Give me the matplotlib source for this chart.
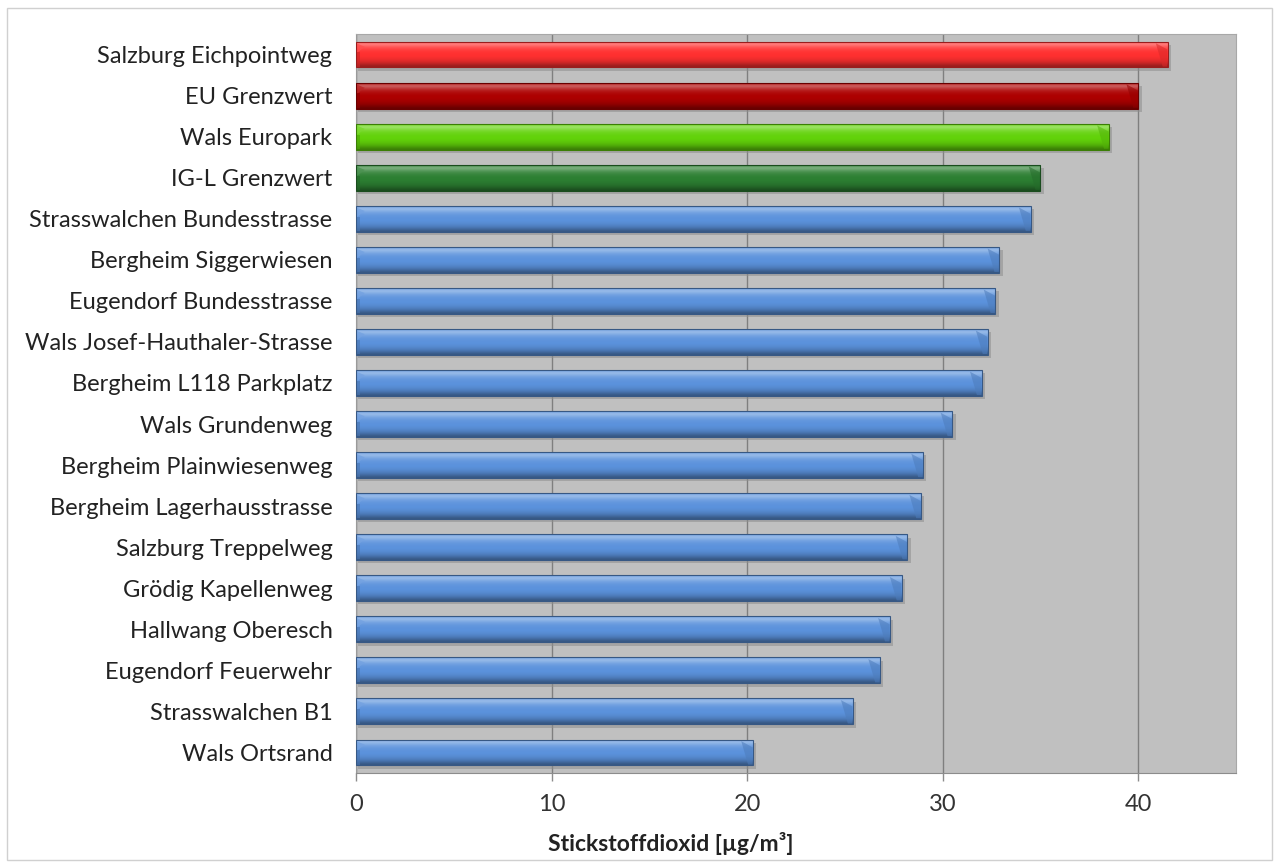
import numpy as np
import matplotlib.pyplot as plt
import matplotlib.colors as mcolors
from matplotlib.patches import Rectangle, Polygon

# NO2 annual means per site, top to bottom
stations = ["Salzburg Eichpointweg", "EU Grenzwert", "Wals Europark", "IG-L Grenzwert",
            "Strasswalchen Bundesstrasse", "Bergheim Siggerwiesen", "Eugendorf Bundesstrasse",
            "Wals Josef-Hauthaler-Strasse", "Bergheim L118 Parkplatz", "Wals Grundenweg",
            "Bergheim Plainwiesenweg", "Bergheim Lagerhausstrasse", "Salzburg Treppelweg",
            "Grödig Kapellenweg", "Hallwang Oberesch", "Eugendorf Feuerwehr",
            "Strasswalchen B1", "Wals Ortsrand"]
no2 = [41.5, 40.0, 38.5, 35.0, 34.5, 32.9, 32.7, 32.3, 32.0, 30.5,
       29.0, 28.9, 28.2, 27.9, 27.3, 26.8, 25.4, 20.3]
bar_colors = ["#ff3030", "#ad0000", "#62d20a", "#2c7f32"] + ["#5b92dc"] * 14

plt.rcParams['font.family'] = ['Lato', 'DejaVu Sans']

fig = plt.figure(figsize=(12.79, 8.68), dpi=100)
ax = fig.add_axes([356 / 1279, 1 - 773 / 868, 880 / 1279, 739 / 868])
ax.set_facecolor("#c0c0c0")

# outer frame of the chart
fig.patches.append(Rectangle((7 / 1279, 8 / 868), 1265 / 1279, 852 / 868,
                             transform=fig.transFigure, fill=False,
                             edgecolor="#d0d0d0", linewidth=1))

n = len(stations)
ypos = np.arange(n)[::-1]
h = 0.63


def shade(c, f):
    r, g, b = mcolors.to_rgb(c)
    if f > 0:
        return (r + (1 - r) * f, g + (1 - g) * f, b + (1 - b) * f)
    return (r * (1 + f), g * (1 + f), b * (1 + f))


# vertical profile: light rim at top, body, dark bottom
prof = np.array([0.15, 0.4, 0.3, 0.18, 0.1, 0.05, 0.02, 0.0, 0.0, -0.03,
                 -0.07, -0.12, -0.2, -0.3, -0.4])

for y, v, c in zip(ypos, no2, bar_colors):
    top, bot = y + h / 2, y - h / 2
    # drop shadow
    ax.add_patch(Rectangle((0.12, bot - 0.08), v + 0.05, h, facecolor="#8e8e8e",
                           edgecolor="none", alpha=0.55, zorder=2))
    grad = np.array([shade(c, f) for f in prof])[:, None, :]
    im = ax.imshow(grad, extent=[0, v, bot, top], aspect="auto",
                   origin="upper", interpolation="bicubic", zorder=3)
    rect = Rectangle((0, bot), v, h, facecolor="none",
                     edgecolor=shade(c, -0.4), linewidth=0.8, zorder=4)
    ax.add_patch(rect)
    im.set_clip_path(rect)
    # bevelled ends
    ax.add_patch(Polygon([(v - 0.6, top - 0.04), (v - 0.02, top - 0.3 * h),
                          (v - 0.02, bot + 0.02), (v - 0.25, bot + 0.02)],
                         closed=True, facecolor=shade(c, -0.15), edgecolor="none",
                         alpha=0.55, zorder=3.5))
    ax.add_patch(Polygon([(0.02, top - 0.04), (0.45, top - 0.2 * h),
                          (0.02, top - 0.45 * h)],
                         closed=True, facecolor=shade(c, 0.15), edgecolor="none",
                         alpha=0.8, zorder=3.5))
    ax.add_patch(Rectangle((0.02, bot + 0.02), 0.2, h * 0.55, facecolor=shade(c, -0.2),
                           edgecolor="none", alpha=0.6, zorder=3.5))

ax.set_xlim(0, 45)
ax.set_ylim(-0.5, n - 0.5)
ax.set_xticks([0, 10, 20, 30, 40])
ax.set_yticks(ypos)
ax.set_yticklabels(stations)
ax.xaxis.grid(True, color="#7f7f7f", linewidth=1)
ax.set_axisbelow(True)
ax.tick_params(axis="y", length=0, pad=17, labelsize=17, colors="#222222")
ax.tick_params(axis="x", length=6, width=1, color="#8c8c8c", pad=9,
               labelsize=17, labelcolor="#333333")
for s in ["top", "right"]:
    ax.spines[s].set_color("#a8a8a8")
ax.spines["left"].set_color("#9a9a9a")
ax.spines["bottom"].set_color("#8c8c8c")

ax.set_xlabel("Stickstoffdioxid [µg/m³]", fontsize=16.5, fontweight="bold",
              color="#222222")
ax.xaxis.set_label_coords((671 - 356) / 880, -(832 - 773) / 739)

fig.savefig("out.png", dpi=100)
